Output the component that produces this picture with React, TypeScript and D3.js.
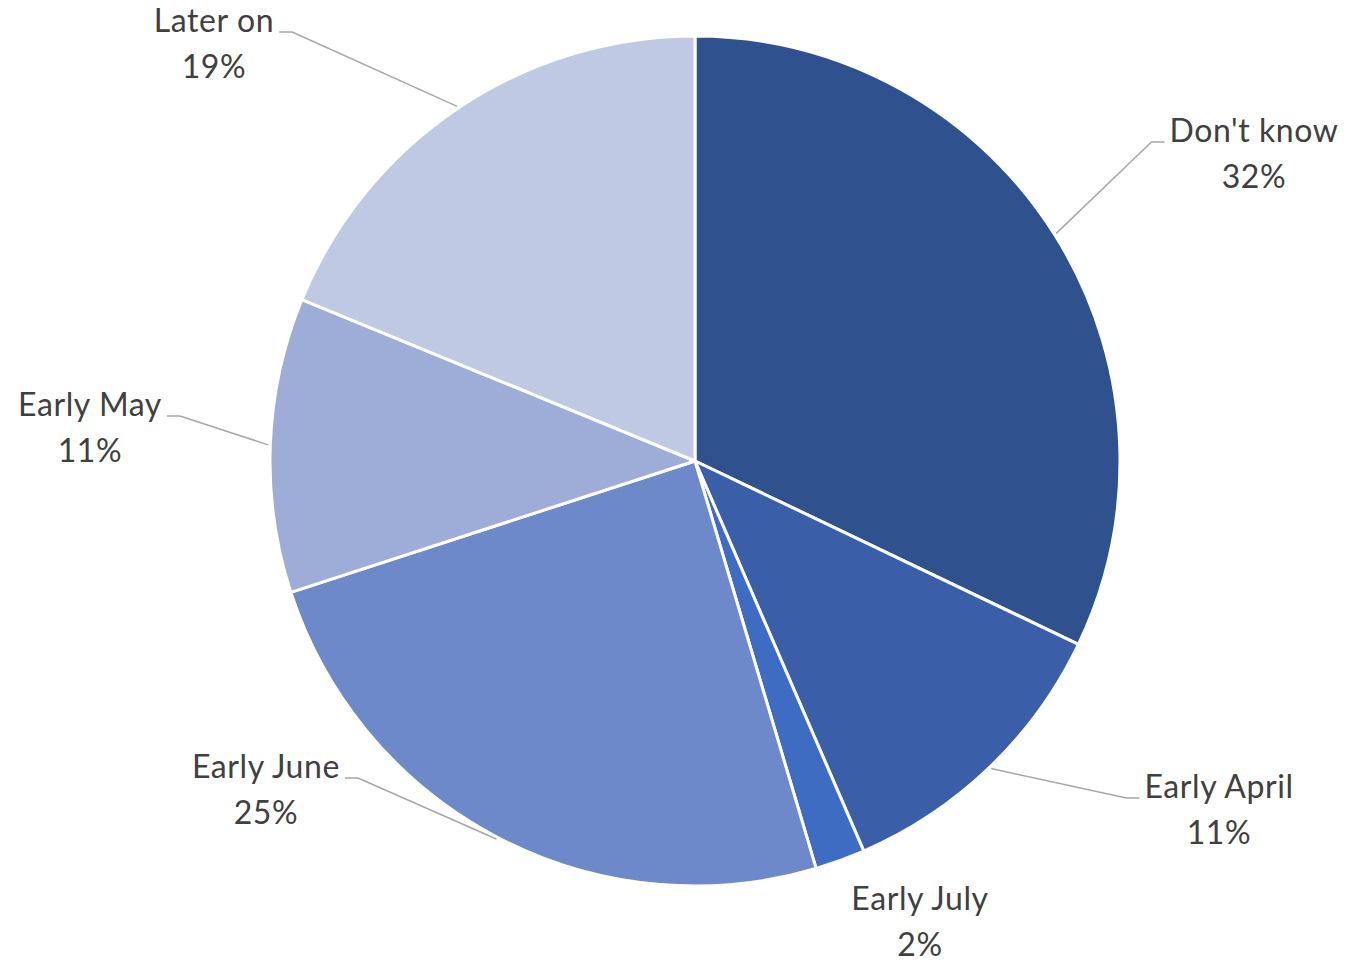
import React, { useEffect, useRef } from "react";
import * as d3 from "d3";

const categories = ["Don't know", "Early April", "Early July", "Early June", "Early May", "Later on"];
const values = [32.1, 11.4, 1.9, 24.6, 11.2, 18.8];
const colors = ["#2F528F", "#3A5FA8", "#3D6CC2", "#6E89C9", "#9EADD7", "#BFC9E4"];

// label layout (centre of label block), leader flag
const labelLayout = [
  { x: 1254, y: 131, leader: true },
  { x: 1219, y: 787, leader: true },
  { x: 920, y: 899, leader: false },
  { x: 266, y: 767, leader: true },
  { x: 90, y: 405, leader: true },
  { x: 214, y: 21, leader: true },
];

const W = 1372;
const H = 963;
const CX = 695;
const CY = 461;
const R = 425;

export default function App() {
  const ref = useRef<SVGSVGElement>(null);
  useEffect(() => {
    const svg = d3.select(ref.current);
    svg.selectAll("*").remove();
    const data = categories.map((c, i) => ({ c, v: values[i], i }));
    const pie = d3.pie<any>().value((d) => d.v).sort(null);
    const arcs = pie(data);
    const arc = d3.arc<any>().innerRadius(0).outerRadius(R);
    const g = svg.append("g").attr("transform", `translate(${CX},${CY})`);
    g.selectAll("path")
      .data(arcs)
      .enter()
      .append("path")
      .attr("d", arc as any)
      .attr("fill", (d: any) => colors[d.data.i])
      .attr("stroke", "#ffffff")
      .attr("stroke-width", 3)
      .attr("stroke-linejoin", "round");

    const lg = svg.append("g");
    arcs.forEach((a: any) => {
      const i = a.data.i;
      const L = labelLayout[i];
      const t = lg
        .append("text")
        .attr("x", L.x)
        .attr("y", L.y)
        .attr("text-anchor", "middle")
        .attr("font-family", "Lato, 'Open Sans', sans-serif")
        .attr("font-size", 32)
        .attr("letter-spacing", 0.6)
        .attr("fill", "#404040");
      t.append("tspan").attr("x", L.x).attr("dy", "0.35em").text(categories[i]);
      t.append("tspan").attr("x", L.x).attr("dy", 46).text(`${Math.round(values[i])}%`);
      if (L.leader) {
        const w = (t.select("tspan").node() as SVGTSpanElement).getComputedTextLength();
        const mid = (a.startAngle + a.endAngle) / 2;
        const px = CX + Math.sin(mid) * (R + 2);
        const py = CY - Math.cos(mid) * (R + 2);
        const right = px > CX;
        const ey = L.y + 11;
        const ex = right ? L.x - w / 2 - 5 : L.x + w / 2 + 5;
        const bx = right ? ex - 13 : ex + 13;
        lg.append("path")
          .attr("d", `M${px},${py}L${bx},${ey}L${ex},${ey}`)
          .attr("fill", "none")
          .attr("stroke", "#A6A6A6")
          .attr("stroke-width", 1.5);
      }
    });
  }, []);
  return (
    <svg
      ref={ref}
      width={W}
      height={H}
      style={{ position: "absolute", left: 0, top: 0, background: "#fff" }}
    />
  );
}
